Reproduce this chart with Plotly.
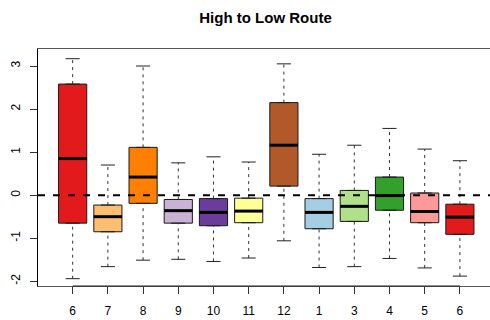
import plotly.graph_objects as go

# ---- data ----
month_labels = ["6", "7", "8", "9", "10", "11", "12", "1", "3", "4", "5", "6"]
whisk_hi = [3.17, 0.70, 3.00, 0.75, 0.89, 0.77, 3.05, 0.95, 1.16, 1.55, 1.07, 0.80]
q3_vals = [2.58, -0.23, 1.11, -0.10, -0.08, -0.07, 2.15, -0.08, 0.11, 0.42, 0.05, -0.21]
medians = [0.85, -0.50, 0.42, -0.36, -0.40, -0.37, 1.16, -0.40, -0.26, -0.01, -0.38, -0.51]
q1_vals = [-0.65, -0.85, -0.19, -0.65, -0.71, -0.64, 0.21, -0.78, -0.61, -0.35, -0.64, -0.91]
whisk_lo = [-1.94, -1.66, -1.51, -1.49, -1.54, -1.46, -1.06, -1.68, -1.66, -1.47, -1.69, -1.88]
box_colors = ["#E31A1C", "#FDBF6F", "#FF7F00", "#CAB2D6", "#6A3D9A", "#FFFF99",
              "#B15928", "#A6CEE3", "#B2DF8A", "#33A02C", "#FB9A99", "#E31A1C"]
y_ticks = [-2, -1, 0, 1, 2, 3]

positions = list(range(1, len(month_labels) + 1))
BOX_W = 0.8
CAP_HALF = 0.2

fig = go.Figure()

# boxes
for x, lo, md, hi, col in zip(positions, q1_vals, medians, q3_vals, box_colors):
    fig.add_trace(go.Box(
        x=[x], q1=[lo], median=[md], q3=[hi], lowerfence=[lo], upperfence=[hi],
        width=BOX_W, fillcolor=col, line=dict(color="#1a1a1a", width=1),
        showlegend=False, hoverinfo="skip",
    ))

# dashed whiskers
wx, wy = [], []
for x, lo, q1, q3, hi in zip(positions, whisk_lo, q1_vals, q3_vals, whisk_hi):
    wx += [x, x, None, x, x, None]
    wy += [lo, q1, None, q3, hi, None]
fig.add_trace(go.Scatter(x=wx, y=wy, mode="lines",
                         line=dict(color="#333333", width=1, dash="3px,4px"),
                         showlegend=False, hoverinfo="skip"))

# caps
cx, cy = [], []
for x, lo, hi in zip(positions, whisk_lo, whisk_hi):
    cx += [x - CAP_HALF, x + CAP_HALF, None, x - CAP_HALF, x + CAP_HALF, None]
    cy += [lo, lo, None, hi, hi, None]
fig.add_trace(go.Scatter(x=cx, y=cy, mode="lines",
                         line=dict(color="#222222", width=1),
                         showlegend=False, hoverinfo="skip"))

# thick medians
mx, my = [], []
for x, md in zip(positions, medians):
    mx += [x - BOX_W / 2, x + BOX_W / 2, None]
    my += [md, md, None]
fig.add_trace(go.Scatter(x=mx, y=my, mode="lines",
                         line=dict(color="black", width=3),
                         showlegend=False, hoverinfo="skip"))

# zero reference line
x_range = [0.015, 12.855]
fig.add_trace(go.Scatter(x=x_range, y=[0, 0], mode="lines",
                         line=dict(color="black", width=2, dash="7px,8px"),
                         showlegend=False, hoverinfo="skip"))

# darker axis segment along the bottom (R axis line)
fig.add_shape(type="line", xref="x", yref="paper", x0=positions[0], x1=positions[-1],
              y0=0, y1=0, line=dict(color="#222222", width=1))

fig.update_layout(
    width=490, height=320,
    margin=dict(l=38, r=0, t=49, b=34),
    plot_bgcolor="white", paper_bgcolor="white",
    font=dict(family="Liberation Sans, Arial, sans-serif", size=12, color="black"),
    title=dict(text="<b>High to Low Route</b>", font=dict(size=15, color="black"),
               x=265.5 / 490, xref="container", xanchor="center",
               y=1 - 18 / 320, yref="container", yanchor="middle"),
    showlegend=False,
)
fig.update_xaxes(range=x_range, tickvals=positions, ticktext=month_labels,
                 showgrid=False, zeroline=False, showline=True, linecolor="#555555",
                 linewidth=1.3, mirror=True, ticks="outside", ticklen=7, tickwidth=1,
                 tickcolor="#333333", ticklabelstandoff=6)
fig.update_yaxes(range=[-2.11, 3.395], tickvals=y_ticks, ticktext=[str(v) for v in y_ticks],
                 showgrid=False, zeroline=False, showline=True, linecolor="black",
                 linewidth=1, ticks="outside", ticklen=7, tickwidth=1,
                 tickcolor="#333333", tickangle=-90, ticklabelstandoff=5)

fig.write_html("out.html", config={"displayModeBar": False},
               post_script="document.body.style.margin='0px';")
